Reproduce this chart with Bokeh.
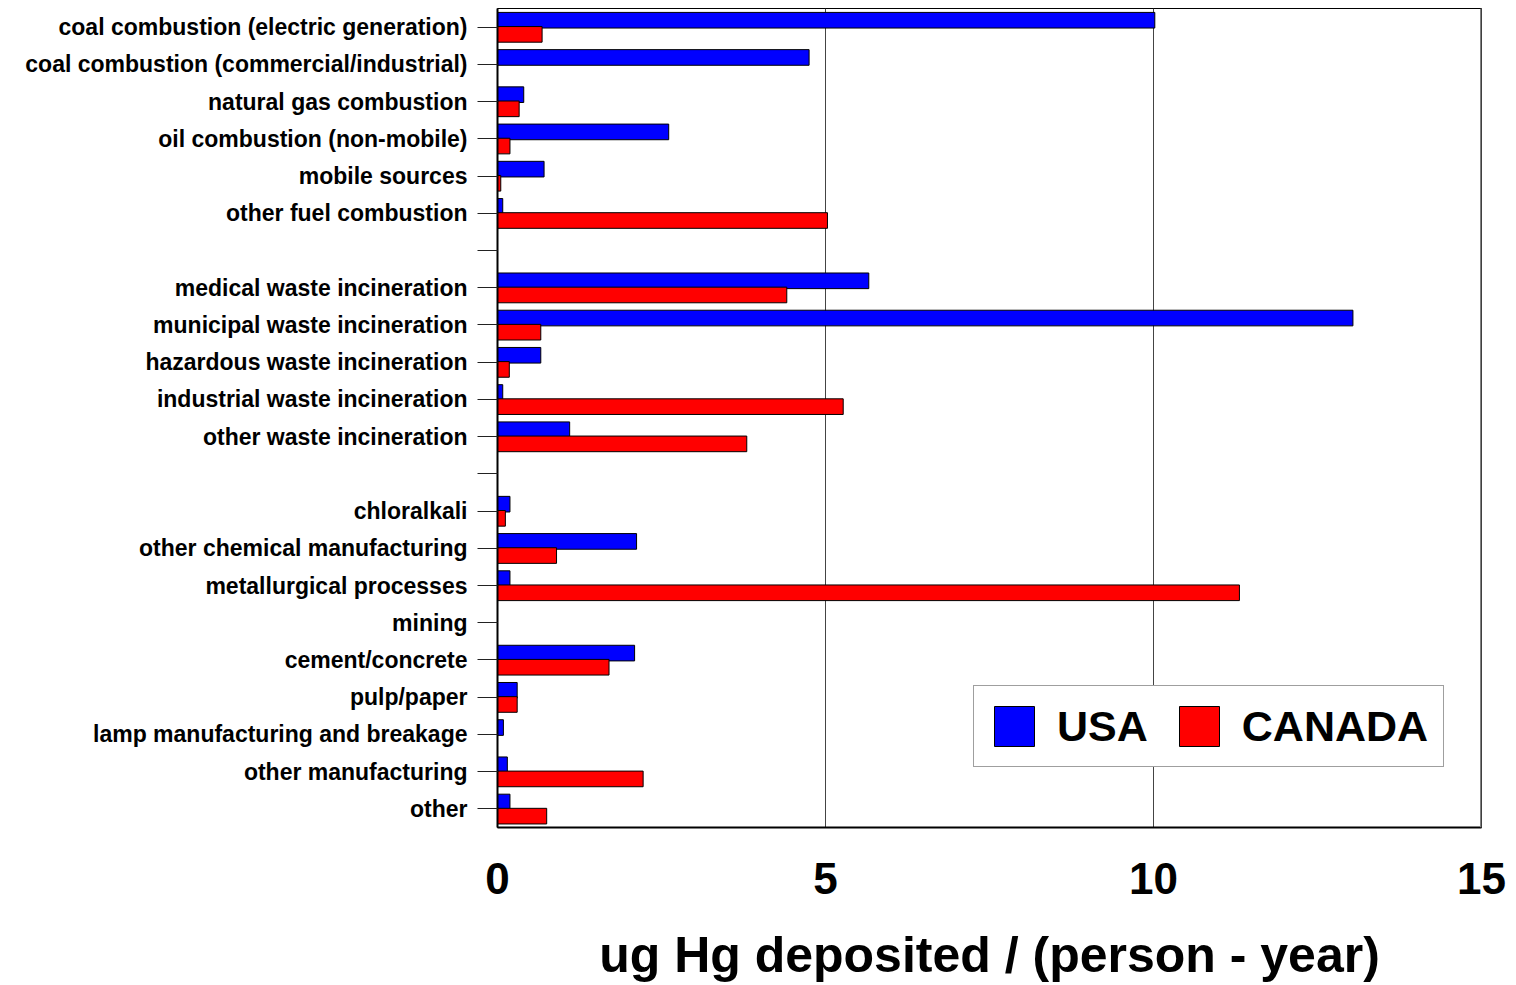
from bokeh.plotting import figure
from bokeh.models import ColumnDataSource, FactorRange, FixedTicker, Span, Range1d
from bokeh.transform import dodge
from bokeh.embed import file_html
from bokeh.resources import INLINE

categories = [
    "coal combustion (electric generation)",
    "coal combustion (commercial/industrial)",
    "natural gas combustion",
    "oil combustion (non-mobile)",
    "mobile sources",
    "other fuel combustion",
    " ",
    "medical waste incineration",
    "municipal waste incineration",
    "hazardous waste incineration",
    "industrial waste incineration",
    "other waste incineration",
    "  ",
    "chloralkali",
    "other chemical manufacturing",
    "metallurgical processes",
    "mining",
    "cement/concrete",
    "pulp/paper",
    "lamp manufacturing and breakage",
    "other manufacturing",
    "other",
]
usa = [10.02, 4.75, 0.40, 2.61, 0.71, 0.08, 0, 5.66, 13.04, 0.66, 0.08, 1.10, 0,
       0.19, 2.12, 0.19, 0, 2.09, 0.30, 0.09, 0.15, 0.19]
canada = [0.68, 0, 0.33, 0.19, 0.05, 5.03, 0, 4.41, 0.66, 0.18, 5.27, 3.80, 0,
          0.12, 0.90, 11.31, 0, 1.70, 0.30, 0, 2.22, 0.75]
x_ticks = [0, 5, 10, 15]
x_title = "ug Hg deposited / (person - year)"
series_names = ["USA", "CANADA"]

FONT = "Liberation Sans"

p = figure(
    width=1508, height=985,
    y_range=FactorRange(factors=list(reversed(categories))),
    x_range=Range1d(0, 15),
    output_backend="svg", toolbar_location=None,
    min_border_left=497, min_border_right=27, min_border_top=8, min_border_bottom=158,
)
p.background_fill_color = "white"
p.border_fill_color = "white"
p.outline_line_color = "#000000"
p.outline_line_width = 1


def src(vals):
    cats = [c for c, v in zip(categories, vals) if v > 0]
    vs = [v for v in vals if v > 0]
    return ColumnDataSource(dict(cat=cats, val=vs))


p.hbar(y=dodge("cat", 0.185, range=p.y_range), right="val", left=0, height=0.42,
       source=src(usa), fill_color="#0000FF", line_color="#000000", line_width=1,
       legend_label=series_names[0])
p.hbar(y=dodge("cat", -0.195, range=p.y_range), right="val", left=0, height=0.42,
       source=src(canada), fill_color="#FF0000", line_color="#000000", line_width=1,
       legend_label=series_names[1])

# grid
p.ygrid.grid_line_color = None
p.xgrid.ticker = FixedTicker(ticks=x_ticks)
p.xgrid.grid_line_color = "#444444"
p.xgrid.grid_line_width = 1

p.add_layout(Span(location=15, dimension="height", line_color="#808080", line_width=3))

# x axis
xa = p.xaxis[0]
xa.ticker = FixedTicker(ticks=x_ticks)
xa.major_tick_out = 0
xa.major_tick_in = 0
xa.minor_tick_out = 0
xa.minor_tick_in = 0
xa.axis_line_color = "#000000"
xa.axis_line_width = 2
xa.major_label_text_font = FONT
xa.major_label_text_font_style = "bold"
xa.major_label_text_font_size = "44px"
xa.major_label_text_color = "#000000"
xa.major_label_standoff = 35
xa.axis_label = x_title
xa.axis_label_text_font = FONT
xa.axis_label_text_font_style = "bold"
xa.axis_label_text_font_size = "50px"
xa.axis_label_text_color = "#000000"
xa.axis_label_standoff = 30

# y axis
ya = p.yaxis[0]
ya.major_tick_out = 20
ya.major_tick_in = 0
ya.major_tick_line_color = "#222222"
ya.axis_line_color = "#000000"
ya.axis_line_width = 2
ya.major_label_text_font = FONT
ya.major_label_text_font_style = "bold"
ya.major_label_text_font_size = "23px"
ya.major_label_text_color = "#000000"
ya.major_label_standoff = 10

# legend
lg = p.legend[0]
lg.location = (476, 60)
lg.orientation = "horizontal"
lg.glyph_width = 50
lg.glyph_height = 50
lg.label_standoff = 18
lg.spacing = 26
lg.padding = 15
lg.margin = 0
lg.label_text_font = FONT
lg.label_text_font_style = "bold"
lg.label_text_font_size = "43px"
lg.label_text_color = "#000000"
lg.border_line_color = "#404040"
lg.border_line_width = 1
lg.background_fill_color = "white"
lg.background_fill_alpha = 1.0

open("out.html", "w").write(file_html(p, INLINE))
